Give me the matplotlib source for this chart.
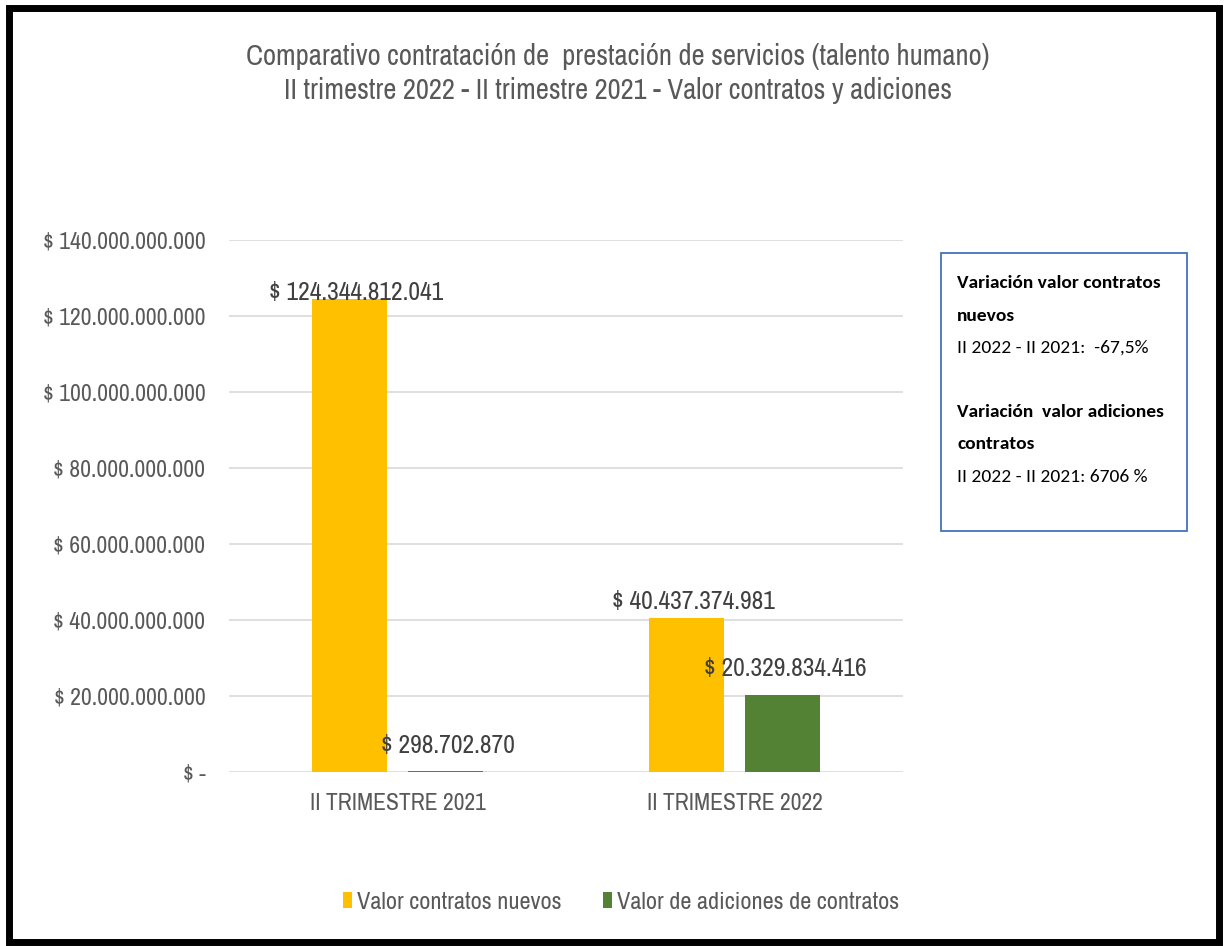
import matplotlib.pyplot as plt
import numpy as np
from matplotlib.patches import Rectangle
from matplotlib.ticker import FuncFormatter

# Datos
trimestres = ['II TRIMESTRE 2021', 'II TRIMESTRE 2022']
contratos_nuevos = [124344812041, 40437374981]
adiciones = [298702870, 20329834416]
series = ['Valor contratos nuevos', 'Valor de adiciones de contratos']
colores = ['#FFC000', '#548235']

def pesos(v):
    if v == 0:
        return '$ -'
    return '$ ' + f'{v:,.0f}'.replace(',', '.')

plt.rcParams['font.family'] = ['Archivo Narrow', 'Liberation Sans', 'DejaVu Sans']
gris = '#595959'

fig = plt.figure(figsize=(12.25, 9.46), dpi=100)
ax = fig.add_axes([229 / 1225, 1 - 772 / 946, (903 - 229) / 1225, (772 - 240) / 946])

x = np.arange(len(trimestres))
ancho = 0.223
b1 = ax.bar(x - 0.142, contratos_nuevos, ancho, color=colores[0], label=series[0], zorder=3)
b2 = ax.bar(x + 0.142, adiciones, ancho, color=colores[1], label=series[1], zorder=3)

# Etiquetas de valor
desplaz1 = [5, 12]
desplaz2 = [18, 19]
for barra, v, d in zip(b1, contratos_nuevos, desplaz1):
    ax.annotate(pesos(v), (barra.get_x() + barra.get_width() / 2, v), xytext=(5, d),
                textcoords='offset points', ha='center', va='center', fontsize=18.4, color='#404040')
for barra, v, d in zip(b2, adiciones, desplaz2):
    ax.annotate(pesos(v), (barra.get_x() + barra.get_width() / 2, v), xytext=(2, d),
                textcoords='offset points', ha='center', va='center', fontsize=18.4, color='#404040')

ax.set_xlim(-0.5, 1.5)
ax.set_ylim(0, 140e9)
ax.set_yticks(np.arange(0, 140e9 + 1, 20e9))
ax.yaxis.set_major_formatter(FuncFormatter(lambda v, p: pesos(v)))
ax.set_xticks(x)
ax.set_xticklabels(trimestres)
ax.tick_params(axis='y', length=0, pad=17, labelsize=17, labelcolor=gris)
ax.tick_params(axis='x', length=0, pad=15, labelsize=17, labelcolor=gris)
ax.grid(axis='y', color='#D9D9D9', lw=1.2, zorder=0)
for s in ax.spines.values():
    s.set_visible(False)

# Titulo en dos lineas
fig.text(618 / 1225, 1 - 57 / 946, 'Comparativo contratación de  prestación de servicios (talento humano)',
         ha='center', va='center', fontsize=20.6, color=gris)
fig.text(618 / 1225, 1 - 90 / 946, 'II trimestre 2022 - II trimestre 2021 - Valor contratos y adiciones',
         ha='center', va='center', fontsize=20.6, color=gris)

# Leyenda
fig.legend(handles=[b1, b2], labels=series, loc='center', bbox_to_anchor=(621 / 1225, 1 - 902 / 946),
           ncol=2, frameon=False, fontsize=17.5, labelcolor=gris, handlelength=0.38, handleheight=0.6,
           handletextpad=0.2, columnspacing=1.7, borderpad=0)

# Recuadro de variaciones
fig.patches.append(Rectangle((941 / 1225, 1 - 531 / 946), (1187 - 941) / 1225, (531 - 253) / 946,
                             transform=fig.transFigure, fill=False, edgecolor='#4472C4', lw=1.3))
lineas = [('Variación valor contratos', 'bold', 283),
          ('nuevos', 'bold', 316),
          ('II 2022 - II 2021:  -67,5%', 'normal', 348),
          ('Variación  valor adiciones', 'bold', 412),
          ('contratos', 'bold', 444),
          ('II 2022 - II 2021: 6706 %', 'normal', 477)]
for txt, peso, y in lineas:
    fig.text(957 / 1225, 1 - y / 946, txt, ha='left', va='center', fontsize=14,
             fontweight=peso, family=['Carlito', 'Lato', 'DejaVu Sans'], color='black')

# Marco exterior
fig.patches.append(Rectangle((9 / 1225, 4 / 946), (1219 - 9) / 1225, (938 - 4) / 946,
                             transform=fig.transFigure, fill=False, edgecolor='black', lw=5))

fig.savefig('out.png', dpi=100)
